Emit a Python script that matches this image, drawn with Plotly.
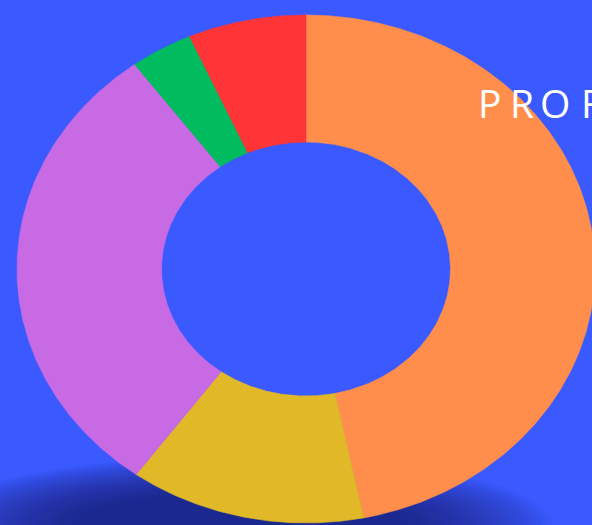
import numpy as np
import plotly.graph_objects as go

# Data
labels = ["A", "B", "C", "D", "E"]
values = [46.8, 13.2, 29.9, 3.5, 6.6]
colors = ["#FF8E4C", "#E0B828", "#C86AE4", "#00BC5E", "#FF3436"]
title_text = "PROF"

W, H = 592, 525
BG = "#3A5AFF"
cx_px, cy_px = 306, 269
rx_px, ry_px = 289, 254
hole = 0.5

fig = go.Figure()

total = sum(values)
start = 0.0
for lab, v, c in zip(labels, values, colors):
    a0 = start / total * 2 * np.pi
    a1 = (start + v) / total * 2 * np.pi
    start += v
    t = np.linspace(a0, a1, max(8, int((a1 - a0) * 120)))
    xo, yo = np.sin(t), np.cos(t)
    xi, yi = hole * np.sin(t[::-1]), hole * np.cos(t[::-1])
    xs = np.concatenate([xo, xi, xo[:1]])
    ys = np.concatenate([yo, yi, yo[:1]])
    fig.add_trace(go.Scatter(x=xs, y=ys, mode="lines", fill="toself",
                             fillcolor=c, line=dict(color=c, width=0.6),
                             name=lab, hoverinfo="name", showlegend=False))

xr = [-cx_px / rx_px, (W - cx_px) / rx_px]
yr = [-(H - cy_px) / ry_px, cy_px / ry_px]

def px2x(p):
    return xr[0] + p / W * (xr[1] - xr[0])

def py2y(p):
    return yr[1] - p / H * (yr[1] - yr[0])

# soft shadow beneath the ring
shapes = []
n = 28
for i in range(n):
    k = i / (n - 1)
    ex, ey = 312 - 150 * k, 68 - 38 * k
    cxs, cys = 240, 524
    shapes.append(dict(type="circle", layer="below", xref="x", yref="y",
                       x0=px2x(cxs - ex), x1=px2x(cxs + ex),
                       y0=py2y(cys + ey), y1=py2y(cys - ey),
                       fillcolor="#0e1a5a", opacity=0.038, line=dict(width=0)))

# letter-spaced heading (one annotation per letter)
letter_centers = [489.5, 521.5, 554.5, 591.0]
annotations = []
for ch, xc in zip(title_text, letter_centers):
    annotations.append(dict(text=ch, xref="paper", yref="paper",
                            x=xc / W, y=1 - 102 / H,
                            xanchor="center", yanchor="middle", showarrow=False,
                            font=dict(family="Open Sans", size=39, color="white")))

fig.update_layout(
    width=W, height=H,
    margin=dict(l=0, r=0, t=0, b=0),
    paper_bgcolor=BG, plot_bgcolor=BG,
    xaxis=dict(range=xr, visible=False, fixedrange=True),
    yaxis=dict(range=yr, visible=False, fixedrange=True),
    shapes=shapes,
    annotations=annotations,
)

fig.write_html("out.html", config={"displayModeBar": False},
               post_script="document.body.style.margin='0';document.body.style.padding='0';")
